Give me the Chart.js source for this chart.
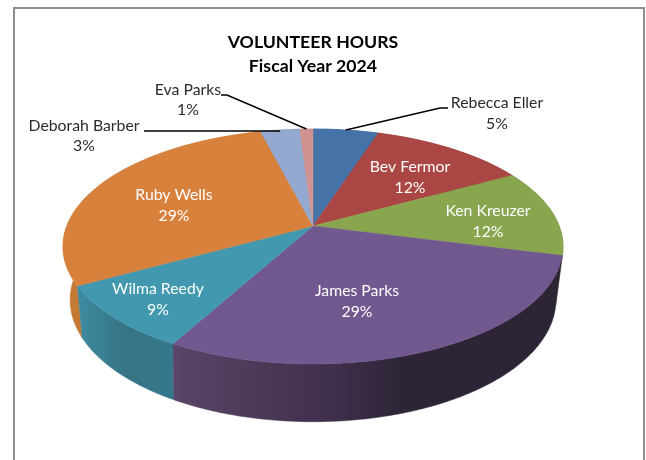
<!DOCTYPE html>
<html>
<head>
<meta charset="utf-8">
<title>Volunteer Hours</title>
<script src="https://cdn.jsdelivr.net/npm/chart.js@4/dist/chart.umd.min.js"></script>
<style>
  html, body { margin: 0; padding: 0; background: #fff; overflow: hidden; }
  #frame { position: absolute; left: 13px; top: 7px; width: 628px; height: 500px; border: 2px solid #8e8e8e; }
  #box { position: absolute; left: 0; top: 0; width: 646px; height: 460px; }
</style>
</head>
<body>
<div id="frame"></div>
<div id="box"><canvas id="pie"></canvas></div>
<script>
// Hours share per volunteer, clockwise from twelve o'clock
const names = ["Rebecca Eller", "Bev Fermor", "Ken Kreuzer", "James Parks", "Wilma Reedy", "Ruby Wells", "Deborah Barber", "Eva Parks"];
const values = [5, 12, 12, 29, 9, 29, 3, 1];
const titleLines = ["VOLUNTEER HOURS", "Fiscal Year 2024"];

const faceColors = ["#4572A7", "#AA4643", "#89A54E", "#71588F", "#4198AF", "#D8813C", "#93A9CF", "#D19392"];
// Shading along the side wall, left to right
const wallColors = [
  ["#3a5f8c", "#3a5f8c"],
  ["#8e3a38", "#8e3a38"],
  ["#728a41", "#728a41"],
  ["#5a4468", "#3f304c", "#2d2436", "#2d2436"],
  ["#3d8ba0", "#367485", "#35788c"],
  ["#c47a35", "#c87a35"],
  ["#7a8dad", "#7a8dad"],
  ["#ae7b7a", "#ae7b7a"],
];

// Perspective disc: circle points are divided by (1 - k * sin a)
const topDisc = { cx: 313, cy: 226, rx: 246.2, ry: 113.9, k: 0.1745 };
const baseDisc = { cx: 313, cy: 275.5, rx: 238, ry: 117, k: 0.2 };

// Label centres, first line y and second line y
const labelSpots = [
  { x: 497, y1: 103, y2: 124, outside: true },
  { x: 410, y1: 167, y2: 188 },
  { x: 488, y1: 211, y2: 232 },
  { x: 357, y1: 291, y2: 312 },
  { x: 158, y1: 289, y2: 310 },
  { x: 174, y1: 195, y2: 216 },
  { x: 84, y1: 126, y2: 146, outside: true },
  { x: 188, y1: 90, y2: 110, outside: true },
];
// Leader bend points, from the slice outwards
const leaders = {
  0: [[440, 108], [448, 108]],
  6: [[144, 131]],
  7: [[227, 95], [221, 95]],
};

function project(disc, a) {
  const w = 1 - disc.k * Math.sin(a);
  return [disc.cx + disc.rx * Math.cos(a) / w, disc.cy + disc.ry * Math.sin(a) / w];
}

function tracePart(ctx, disc, from, to) {
  const steps = Math.max(2, Math.ceil(Math.abs(to - from) / 0.01));
  for (let s = 0; s <= steps; s++) {
    const p = project(disc, from + (to - from) * s / steps);
    ctx.lineTo(p[0], p[1]);
  }
}

const pie3d = {
  id: "pie3d",
  beforeDatasetsDraw(chart) {
    const ctx = chart.ctx;
    const arcs = chart.getDatasetMeta(0).data;
    ctx.save();

    // side walls, back ones first
    const order = arcs.map((_, i) => i).sort((p, q) => {
      const mid = i => Math.sin((arcs[i].startAngle + arcs[i].endAngle) / 2);
      return mid(p) - mid(q);
    });
    order.forEach(i => {
      const arc = arcs[i];
      const xs = [];
      for (let a = arc.startAngle; a <= arc.endAngle; a += 0.01) {
        xs.push(project(topDisc, a)[0], project(baseDisc, a)[0]);
      }
      const grad = ctx.createLinearGradient(Math.min(...xs), 0, Math.max(...xs), 0);
      const stops = wallColors[i];
      if (stops.length === 4) {
        grad.addColorStop(0, stops[0]);
        grad.addColorStop(0.4, stops[1]);
        grad.addColorStop(0.6, stops[2]);
        grad.addColorStop(1, stops[3]);
      } else {
        stops.forEach((c, n) => grad.addColorStop(n / (stops.length - 1), c));
      }
      ctx.beginPath();
      tracePart(ctx, topDisc, arc.startAngle, arc.endAngle);
      tracePart(ctx, baseDisc, arc.endAngle, arc.startAngle);
      ctx.closePath();
      ctx.fillStyle = grad;
      ctx.strokeStyle = grad;
      ctx.lineWidth = 0.5;
      ctx.fill();
      ctx.stroke();
    });

    // top faces
    arcs.forEach((arc, i) => {
      ctx.beginPath();
      ctx.moveTo(topDisc.cx, topDisc.cy);
      tracePart(ctx, topDisc, arc.startAngle, arc.endAngle);
      ctx.closePath();
      ctx.fillStyle = faceColors[i];
      ctx.strokeStyle = faceColors[i];
      ctx.lineWidth = 0.5;
      ctx.fill();
      ctx.stroke();
    });

    // leader lines
    ctx.strokeStyle = "#000";
    ctx.lineWidth = 1.5;
    Object.keys(leaders).forEach(i => {
      const arc = arcs[i];
      const start = project(topDisc, (arc.startAngle + arc.endAngle) / 2);
      ctx.beginPath();
      ctx.moveTo(start[0], leaders[i].length === 1 ? leaders[i][0][1] : start[1]);
      leaders[i].forEach(p => ctx.lineTo(p[0], p[1]));
      ctx.stroke();
    });

    // labels
    const total = values.reduce((s, v) => s + v, 0);
    ctx.font = "15.8px Lato";
    ctx.textAlign = "center";
    ctx.textBaseline = "middle";
    labelSpots.forEach((spot, i) => {
      ctx.fillStyle = spot.outside ? "#2b2b2b" : "#fff";
      ctx.fillText(names[i], spot.x, spot.y1);
      ctx.fillText(Math.round(values[i] / total * 100) + "%", spot.x, spot.y2);
    });

    ctx.restore();
    return false;
  },
};

new Chart(document.getElementById("pie"), {
  type: "pie",
  data: {
    labels: names,
    datasets: [{ data: values, backgroundColor: faceColors, borderWidth: 0 }],
  },
  options: {
    responsive: true,
    maintainAspectRatio: false,
    animation: false,
    layout: { padding: { right: 20 } },
    plugins: {
      legend: { display: false },
      tooltip: { enabled: false },
      title: {
        display: true,
        text: titleLines,
        color: "#000",
        font: { family: "Lato", size: 17.7, weight: "bold", lineHeight: 1.36 },
        padding: { top: 30, bottom: 10 },
      },
    },
  },
  plugins: [pie3d],
});
</script>
</body>
</html>
